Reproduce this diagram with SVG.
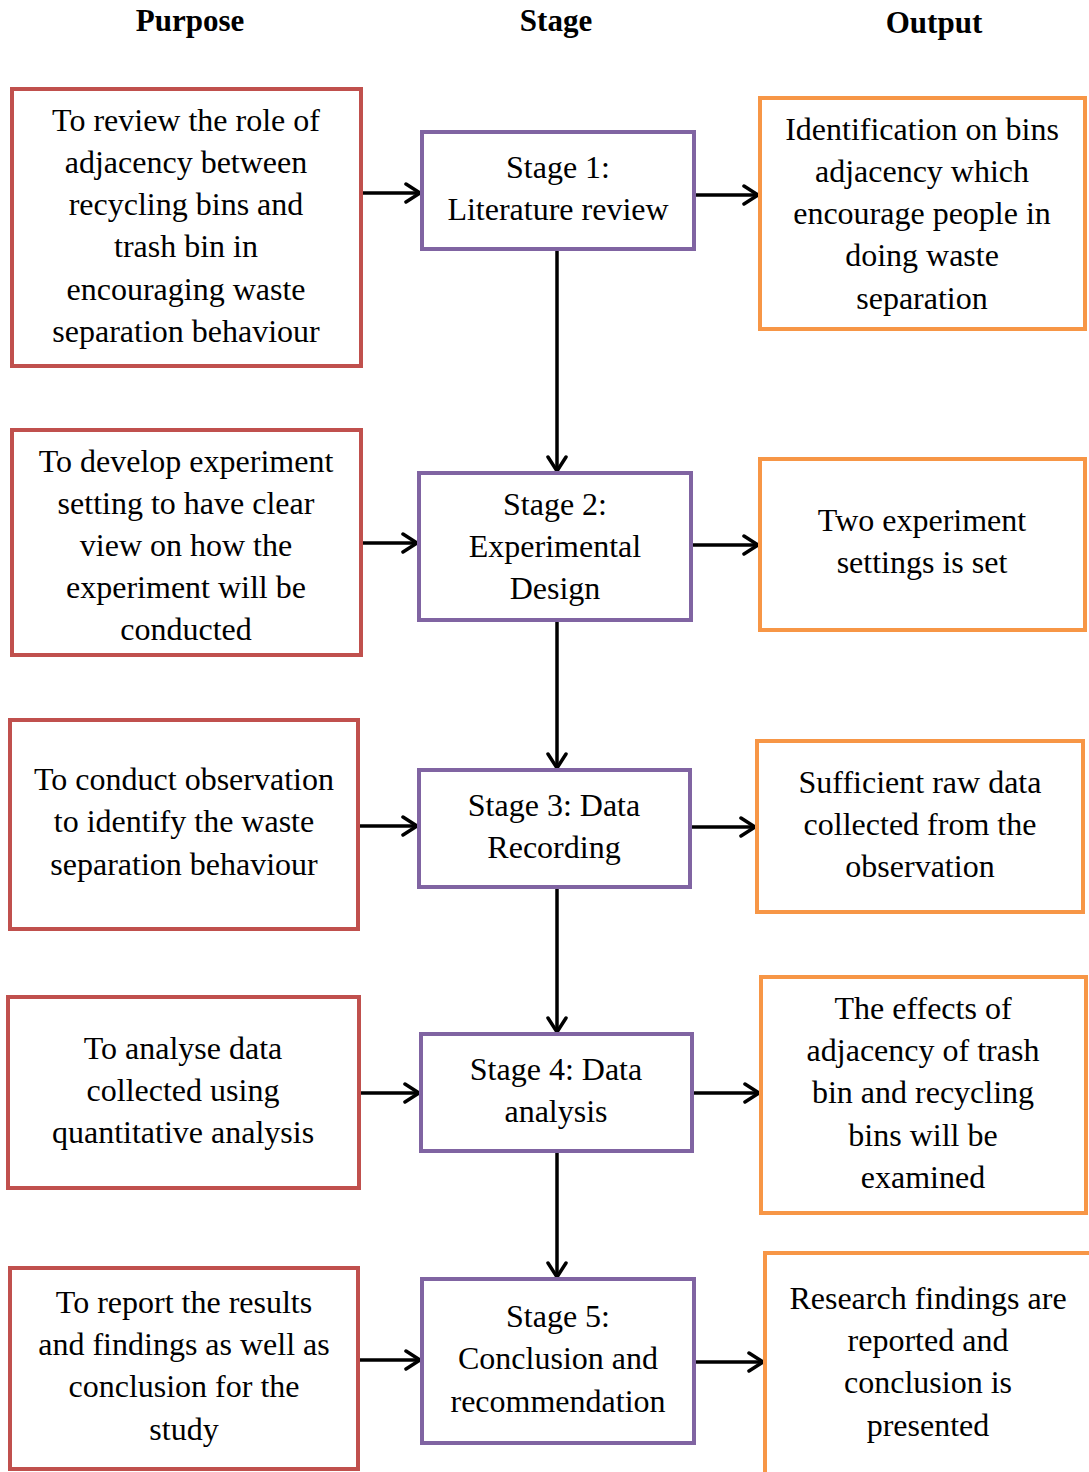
<svg xmlns="http://www.w3.org/2000/svg" width="1089" height="1472" viewBox="0 0 1089 1472">
<defs>
<marker id="arr" markerWidth="24" markerHeight="24" refX="17" refY="11" orient="auto" markerUnits="userSpaceOnUse">
<polyline points="3,2 17,11 3,20" fill="none" stroke="#000" stroke-width="3.5" stroke-linecap="round" stroke-linejoin="miter"/>
</marker>
<style>
.t{font-family:"Liberation Serif","Times New Roman",serif;font-size:32px;fill:#000;text-anchor:middle}
.h{font-family:"Liberation Serif","Times New Roman",serif;font-size:31px;font-weight:bold;fill:#000;text-anchor:middle}
.p{fill:#fff;stroke:#C0504D;stroke-width:4}
.s{fill:#fff;stroke:#8064A2;stroke-width:4}
.o{fill:#fff;stroke:#F79646;stroke-width:4}
.c{stroke:#000;stroke-width:3.5;fill:none;marker-end:url(#arr)}
</style>
</defs>
<rect width="1089" height="1472" fill="#fff"/>
<g id="headers">
<text class="h" x="190" y="31">Purpose</text>
<text class="h" x="556" y="31">Stage</text>
<text class="h" x="934" y="33">Output</text>
</g>
<g id="connectors">
<line class="c" x1="361" y1="193" x2="420" y2="193"/>
<line class="c" x1="694" y1="195" x2="758" y2="195"/>
<line class="c" x1="361" y1="543" x2="417" y2="543"/>
<line class="c" x1="691" y1="545" x2="758" y2="545"/>
<line class="c" x1="358" y1="826" x2="417" y2="826"/>
<line class="c" x1="690" y1="827" x2="755" y2="827"/>
<line class="c" x1="359" y1="1093" x2="419" y2="1093"/>
<line class="c" x1="692" y1="1093" x2="759" y2="1093"/>
<line class="c" x1="358" y1="1360" x2="420" y2="1360"/>
<line class="c" x1="694" y1="1362" x2="763" y2="1362"/>
<line class="c" x1="557" y1="249" x2="557" y2="471"/>
<line class="c" x1="557" y1="620" x2="557" y2="768"/>
<line class="c" x1="557" y1="887" x2="557" y2="1032"/>
<line class="c" x1="557" y1="1151" x2="557" y2="1277"/>
</g>
<g id="purpose1"><rect class="p" x="12" y="89" width="349" height="277"/>
<text class="t"><tspan x="186" y="131">To review the role of</tspan><tspan x="186" y="173">adjacency between</tspan><tspan x="186" y="215">recycling bins and</tspan><tspan x="186" y="257">trash bin in</tspan><tspan x="186" y="300">encouraging waste</tspan><tspan x="186" y="342">separation behaviour</tspan></text></g>
<g id="purpose2"><rect class="p" x="12" y="430" width="349" height="225"/>
<text class="t"><tspan x="186" y="472">To develop experiment</tspan><tspan x="186" y="514">setting to have clear</tspan><tspan x="186" y="556">view on how the</tspan><tspan x="186" y="598">experiment will be</tspan><tspan x="186" y="640">conducted</tspan></text></g>
<g id="purpose3"><rect class="p" x="10" y="720" width="348" height="209"/>
<text class="t"><tspan x="184" y="790">To conduct observation</tspan><tspan x="184" y="832">to identify the waste</tspan><tspan x="184" y="875">separation behaviour</tspan></text></g>
<g id="purpose4"><rect class="p" x="8" y="997" width="351" height="191"/>
<text class="t"><tspan x="183" y="1059">To analyse data</tspan><tspan x="183" y="1101">collected using</tspan><tspan x="183" y="1143">quantitative analysis</tspan></text></g>
<g id="purpose5"><rect class="p" x="10" y="1268" width="348" height="201"/>
<text class="t"><tspan x="184" y="1313">To report the results</tspan><tspan x="184" y="1355">and findings as well as</tspan><tspan x="184" y="1397">conclusion for the</tspan><tspan x="184" y="1440">study</tspan></text></g>
<g id="stage1"><rect class="s" x="422" y="132" width="272" height="117"/>
<text class="t"><tspan x="558" y="178">Stage 1:</tspan><tspan x="558" y="220">Literature review</tspan></text></g>
<g id="stage2"><rect class="s" x="419" y="473" width="272" height="147"/>
<text class="t"><tspan x="555" y="515">Stage 2:</tspan><tspan x="555" y="557">Experimental</tspan><tspan x="555" y="599">Design</tspan></text></g>
<g id="stage3"><rect class="s" x="419" y="770" width="271" height="117"/>
<text class="t"><tspan x="554" y="816">Stage 3: Data</tspan><tspan x="554" y="858">Recording</tspan></text></g>
<g id="stage4"><rect class="s" x="421" y="1034" width="271" height="117"/>
<text class="t"><tspan x="556" y="1080">Stage 4: Data</tspan><tspan x="556" y="1122">analysis</tspan></text></g>
<g id="stage5"><rect class="s" x="422" y="1279" width="272" height="164"/>
<text class="t"><tspan x="558" y="1327">Stage 5:</tspan><tspan x="558" y="1369">Conclusion and</tspan><tspan x="558" y="1412">recommendation</tspan></text></g>
<g id="output1"><rect class="o" x="760" y="98" width="325" height="231"/>
<text class="t"><tspan x="922" y="140">Identification on bins</tspan><tspan x="922" y="182">adjacency which</tspan><tspan x="922" y="224">encourage people in</tspan><tspan x="922" y="266">doing waste</tspan><tspan x="922" y="309">separation</tspan></text></g>
<g id="output2"><rect class="o" x="760" y="459" width="325" height="171"/>
<text class="t"><tspan x="922" y="531">Two experiment</tspan><tspan x="922" y="573">settings is set</tspan></text></g>
<g id="output3"><rect class="o" x="757" y="741" width="326" height="171"/>
<text class="t"><tspan x="920" y="793">Sufficient raw data</tspan><tspan x="920" y="835">collected from the</tspan><tspan x="920" y="877">observation</tspan></text></g>
<g id="output4"><rect class="o" x="761" y="977" width="325" height="236"/>
<text class="t"><tspan x="923" y="1019">The effects of</tspan><tspan x="923" y="1061">adjacency of trash</tspan><tspan x="923" y="1103">bin and recycling</tspan><tspan x="923" y="1146">bins will be</tspan><tspan x="923" y="1188">examined</tspan></text></g>
<g id="output5"><rect class="o" x="765" y="1253" width="340" height="240"/>
<text class="t"><tspan x="928" y="1309">Research findings are</tspan><tspan x="928" y="1351">reported and</tspan><tspan x="928" y="1393">conclusion is</tspan><tspan x="928" y="1436">presented</tspan></text></g>
</svg>
